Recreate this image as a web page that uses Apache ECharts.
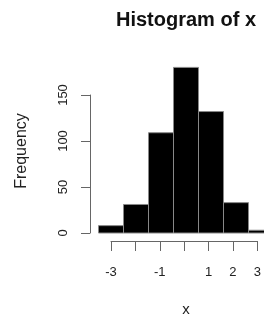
<!DOCTYPE html>
<html>
<head>
<meta charset="utf-8">
<script src="https://cdn.jsdelivr.net/npm/echarts@6/dist/echarts.min.js"></script>
<style>
  html, body { margin: 0; padding: 0; background: #fff; }
  #main { width: 264px; height: 317px; }
</style>
</head>
<body>
<div id="main"></div>
<script>
// 直方图数据
var binStarts = [-3.5, -2.5, -1.5, -0.5, 0.5, 1.5, 2.5];
var binEnds = [-2.5, -1.5, -0.5, 0.5, 1.5, 2.5, 3.5];
var counts = [8, 31, 109, 180, 132, 33, 3];
var xTicks = ['-3', '', '-1', '', '1', '2', '3'];
var yTicks = ['0', '50', '100', '150'];

var barData = [];
for (var i = 0; i < counts.length; i++) {
  barData.push([binStarts[i], binEnds[i], counts[i]]);
}

var font = '"Liberation Sans", Arial, sans-serif';
var myChart = echarts.init(document.getElementById('main'));
var option = {
  backgroundColor: '#fff',
  animation: false,
  graphic: [
    {
      type: 'text', x: 186, y: 20,
      style: { text: 'Histogram of x', fill: '#111', font: 'bold 20px ' + font, align: 'center', verticalAlign: 'middle' }
    },
    {
      type: 'text', x: 22, y: 151, rotation: Math.PI / 2,
      style: { text: 'Frequency', fill: '#222', font: '16px ' + font, align: 'center', verticalAlign: 'middle' }
    },
    {
      type: 'text', x: 186, y: 310,
      style: { text: 'x', fill: '#222', font: '15px ' + font, align: 'center', verticalAlign: 'middle' }
    }
  ],
  grid: [
    // 画柱子的区域（x 从 -4 到 3.12，超出部分不裁剪）
    { left: 86, top: 95, width: 178, height: 138 },
    // 坐标轴区域
    { left: 111, top: 95, width: 150, height: 138 }
  ],
  xAxis: [
    { type: 'value', gridIndex: 0, min: -4, max: 3.12, show: false },
    {
      type: 'value', gridIndex: 1, min: -3, max: 3, interval: 1, offset: 8,
      axisLine: { show: true, onZero: false, lineStyle: { color: '#666', width: 1 } },
      axisTick: { show: true, length: 10, lineStyle: { color: '#666' } },
      splitLine: { show: false },
      axisLabel: {
        margin: 25, color: '#222', fontSize: 13, fontFamily: font,
        formatter: function (v) { return xTicks[Math.round(v) + 3]; }
      }
    }
  ],
  yAxis: [
    { type: 'value', gridIndex: 0, min: 0, max: 150, show: false },
    {
      type: 'value', gridIndex: 1, min: 0, max: 150, interval: 50, offset: 21,
      axisLine: { show: true, onZero: false, lineStyle: { color: '#666', width: 1 } },
      axisTick: { show: true, length: 9, lineStyle: { color: '#666' } },
      splitLine: { show: false },
      axisLabel: {
        margin: 20, rotate: 90, color: '#222', fontSize: 13, fontFamily: font,
        formatter: function (v) { return yTicks[Math.round(v / 50)]; }
      }
    }
  ],
  series: [{
    type: 'custom',
    xAxisIndex: 0,
    yAxisIndex: 0,
    clip: false,
    data: barData,
    renderItem: function (params, api) {
      var p0 = api.coord([api.value(0), api.value(2)]);
      var p1 = api.coord([api.value(1), 0]);
      return {
        type: 'rect',
        shape: { x: p0[0], y: p0[1], width: p1[0] - p0[0], height: p1[1] - p0[1] },
        style: { fill: '#000', stroke: '#888', lineWidth: 1 }
      };
    }
  }]
};
myChart.setOption(option, true);
</script>
</body>
</html>
